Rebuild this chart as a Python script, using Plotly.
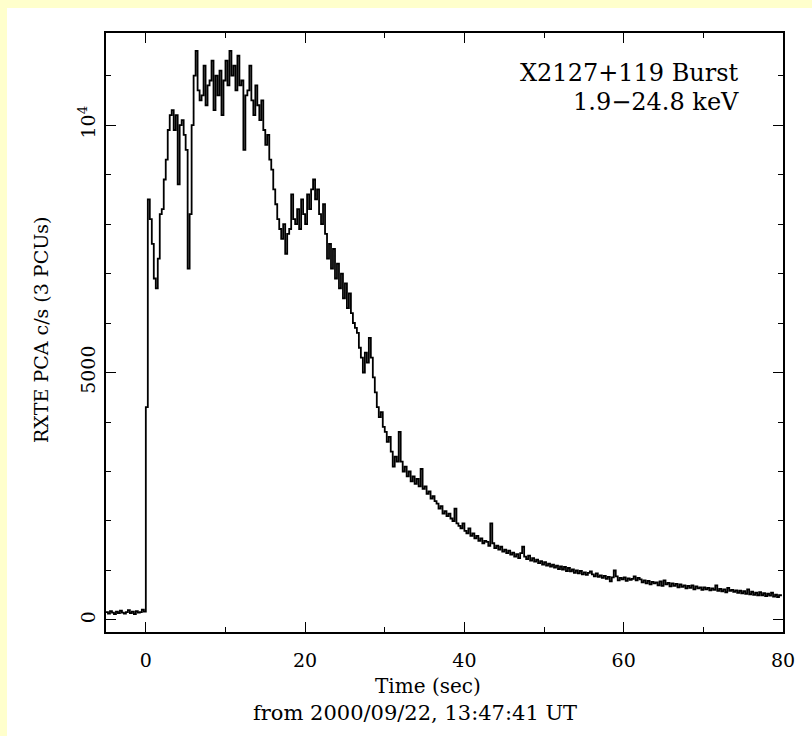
import plotly.graph_objects as go

# Light-curve bins: start time (s) and bin width (s)
t_start = -5.0
bin_width = 0.25

# Count rate (c/s, 3 PCUs), one value per 0.25 s bin
rate = [
    # -5 .. -0.25
    160, 130, 180, 150, 120, 170, 140, 190, 150, 130, 160, 200, 140, 170, 120, 180, 150, 160, 210, 170,
    # 0 .. 5.75
    4300, 8500, 8100, 7600, 6900, 6700, 7300, 8200, 8300, 8900, 9300, 9900,
    10200, 10300, 9900, 10200, 8800, 10000, 10100, 9800, 9500, 7100, 8200, 10000,
    # 6 .. 11.75
    11000, 11500, 10700, 10500, 10600, 11200, 10400, 10800, 10900, 11300, 10300, 11000,
    10600, 11100, 10200, 10900, 11300, 10800, 11500, 11000, 11200, 10700, 11400, 10800,
    # 12 .. 17.75
    10900, 9500, 10600, 10700, 11200, 10500, 10200, 10800, 10400, 10100, 10500, 9900,
    9600, 9800, 9300, 9100, 8700, 8400, 8100, 7900, 7700, 8000, 7400, 7800,
    # 18 .. 23.75
    7900, 8600, 8100, 8000, 8300, 7900, 8500, 8200, 8000, 8600, 8300, 8700,
    8900, 8500, 8700, 8200, 8000, 8400, 7800, 7300, 7600, 7100, 7500, 6900,
    # 24 .. 29.75
    7200, 6700, 7000, 6500, 6800, 6300, 6600, 6200, 6000, 5900, 5800, 5500,
    5300, 5000, 5400, 5200, 5700, 5300, 4900, 4600, 4300, 4100, 4200, 3900,
    # 30 .. 35.75
    3800, 3600, 3700, 3400, 3100, 3300, 3200, 3800, 3200, 3000, 3100, 2900,
    3000, 2800, 2900, 2750, 2850, 2700, 3050, 2650, 2700, 2550, 2600, 2450,
    # 36 .. 41.75
    2500, 2400, 2350, 2250, 2300, 2150, 2200, 2100, 2150, 2050, 2000, 2250,
    1950, 1900, 1850, 1950, 1800, 1750, 1850, 1700, 1750, 1650, 1700, 1600,
    # 42 .. 47.75
    1650, 1550, 1600, 1580, 1500, 1950, 1550, 1450, 1500, 1420, 1480, 1380,
    1420, 1350, 1400, 1320, 1360, 1280, 1330, 1250, 1350, 1480, 1280, 1230,
    # 48 .. 53.75
    1300, 1200, 1250, 1180, 1220, 1150, 1190, 1120, 1170, 1100, 1140, 1080,
    1120, 1060, 1100, 1030, 1080, 1020, 1070, 990, 1050, 980, 1020, 950,
    # 54 .. 59.75
    1000, 940, 990, 920, 960, 910, 950, 980, 920, 880, 940, 870,
    900, 850, 890, 830, 870, 780, 860, 1000, 880, 800, 850, 820,
    # 60 .. 65.75
    860, 790, 840, 810, 830, 880, 800, 850, 820, 760, 800, 740,
    790, 720, 770, 740, 760, 700, 780, 690, 800, 720, 750, 680,
    # 66 .. 71.75
    740, 690, 730, 660, 720, 670, 700, 640, 690, 650, 700, 620,
    680, 640, 660, 610, 660, 620, 650, 600, 640, 610, 700, 590,
    # 72 .. 77.75
    630, 580, 620, 560, 650, 590, 610, 570, 600, 550, 590, 540,
    580, 530, 620, 520, 570, 510, 550, 500, 560, 500, 540, 480,
    # 78 .. 79.75
    530, 490, 550, 470, 510, 460, 500, 480,
]

time = [t_start + i * bin_width for i in range(len(rate))]

x_ticks = [0, 20, 40, 60, 80]
y_tickvals = [0, 5000, 10000]
y_ticktext = ["0", "5000", "10<sup>4</sup>"]

title_lines = ["X2127+119 Burst", "1.9\u221224.8 keV"]
x_title = "Time (sec)"
x_subtitle = "from 2000/09/22, 13:47:41 UT"
y_title = "RXTE PCA c/s (3 PCUs)"

FONT = "DejaVu Serif"

fig = go.Figure()
fig.add_trace(go.Scatter(
    x=time, y=rate, mode="lines", line=dict(color="black", width=1.8, shape="hv"),
    showlegend=False, hoverinfo="skip",
))

# plot-area pixel geometry
L, R, T, B = 106, 783, 33, 632
W, H = 812, 736
pw, ph = R - L, B - T

def px(x):
    return (x - L) / pw

def py(y):
    return (B - y) / ph

fig.update_layout(
    width=W, height=H,
    margin=dict(l=L, r=W - R, t=T, b=H - B, pad=0),
    paper_bgcolor="#FFFFCC",
    plot_bgcolor="white",
    font=dict(family=FONT, color="black", size=19),
    shapes=[dict(type="rect", xref="paper", yref="paper",
                 x0=px(7), x1=px(815), y0=py(740), y1=py(8),
                 fillcolor="white", line=dict(width=0), layer="below")],
)

fig.update_xaxes(
    range=[-5, 80], tickvals=x_ticks, ticks="inside", ticklen=10, tickwidth=1.2,
    tickcolor="black", showline=True, linecolor="black", linewidth=1.5, mirror="ticks",
    showgrid=False, zeroline=False, tickfont=dict(size=19, family=FONT),
    minor=dict(dtick=10, tick0=0, ticks="inside", ticklen=5, tickwidth=1.2, tickcolor="black", showgrid=False),
    ticklabelstandoff=10,
)
fig.update_yaxes(
    range=[-243, 11860], tickvals=y_tickvals, ticktext=y_ticktext, tickangle=-90,
    ticks="inside", ticklen=10, tickwidth=1.2, tickcolor="black",
    showline=True, linecolor="black", linewidth=1.5, mirror="ticks",
    showgrid=False, zeroline=False, tickfont=dict(size=19, family=FONT),
    minor=dict(dtick=1000, tick0=0, ticks="inside", ticklen=5, tickwidth=1.2, tickcolor="black", showgrid=False),
    ticklabelstandoff=2,
)

annotations = [
    dict(x=px(741), y=py(73), text=title_lines[0], font=dict(size=24, family=FONT),
         xanchor="right", yanchor="middle"),
    dict(x=px(741), y=py(102), text=title_lines[1], font=dict(size=24, family=FONT),
         xanchor="right", yanchor="middle"),
    dict(x=px(428), y=py(686), text=x_title, font=dict(size=20, family=FONT),
         xanchor="center", yanchor="middle"),
    dict(x=px(415), y=py(713), text=x_subtitle, font=dict(size=21, family=FONT),
         xanchor="center", yanchor="middle"),
    dict(x=px(41), y=py(330), text=y_title, font=dict(size=19, family=FONT),
         xanchor="center", yanchor="middle", textangle=-90),
]
for a in annotations:
    a.update(xref="paper", yref="paper", showarrow=False)
fig.update_layout(annotations=annotations)

fig.write_html(
    "out.html",
    config={"displayModeBar": False},
    post_script="document.body.style.margin='0px';document.body.style.overflow='hidden';",
)
